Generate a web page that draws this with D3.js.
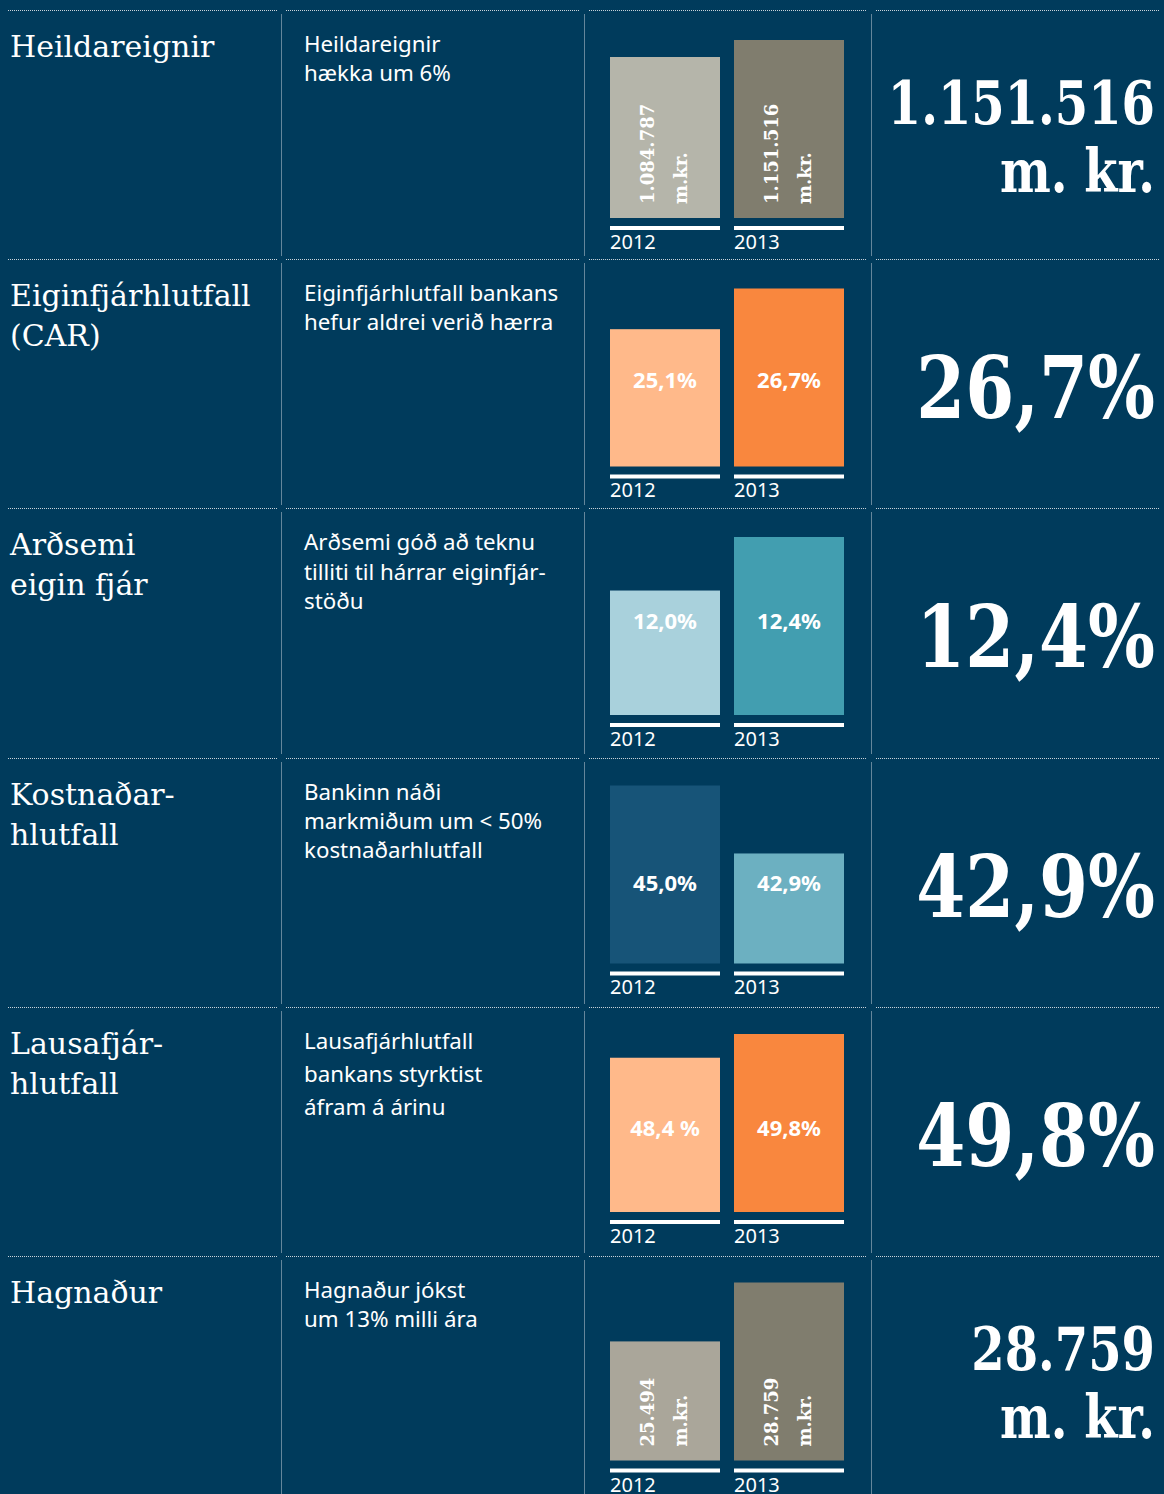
<!DOCTYPE html>
<html lang="is">
<head>
    <meta charset="UTF-8">
    <title>Lykiltölur 2013</title>
    <script src="https://d3js.org/d3.v7.min.js"></script>
    <style>
        body { margin: 0; background: #003b5c; }
        svg { display: block; }
        .title { font-family: "DejaVu Serif", serif; font-size: 30px; fill: #fff; }
        .desc { font-family: "Noto Sans", sans-serif; font-size: 22.3px; fill: #fff; }
        .year { font-family: "Noto Sans", sans-serif; font-size: 20px; fill: #fff; }
        .barlabel { font-family: "Noto Sans", sans-serif; font-size: 22px; font-weight: bold; fill: #fff; }
        .rotlabel { font-family: "DejaVu Serif", serif; font-size: 18px; font-weight: bold; fill: #fff; }
        .big { font-family: "DejaVu Serif", serif; font-weight: bold; fill: #fff; }
        .grid { stroke: #c9d2da; stroke-width: 1; stroke-dasharray: 1 1; }
    </style>
</head>
<body>
<script>
    // values per row
    const years = ["2012", "2013"];
    const titles = [
        ["Heildareignir"],
        ["Eiginfjárhlutfall", "(CAR)"],
        ["Arðsemi", "eigin fjár"],
        ["Kostnaðar-", "hlutfall"],
        ["Lausafjár-", "hlutfall"],
        ["Hagnaður"]
    ];
    const descriptions = [
        ["Heildareignir", "hækka um 6%"],
        ["Eiginfjárhlutfall bankans", "hefur aldrei verið hærra"],
        ["Arðsemi góð að teknu", "tilliti til hárrar eiginfjár-", "stöðu"],
        ["Bankinn náði", "markmiðum um < 50%", "kostnaðarhlutfall"],
        ["Lausafjárhlutfall", "bankans styrktist", "áfram á árinu"],
        ["Hagnaður jókst", "um 13% milli ára"]
    ];
    const values2012 = [1084787, 25.1, 12.0, 45.0, 48.4, 25494];
    const values2013 = [1151516, 26.7, 12.4, 42.9, 49.8, 28759];
    // the bars in the original start from a cut baseline, one per row
    const axisFloor = [452800, 19.7, 11.07, 39.5, 39.3, 18894];
    const labels2012 = [["1.084.787", "m.kr."], "25,1%", "12,0%", "45,0%", "48,4 %", ["25.494", "m.kr."]];
    const labels2013 = [["1.151.516", "m.kr."], "26,7%", "12,4%", "42,9%", "49,8%", ["28.759", "m.kr."]];
    const bigValues = [["1.151.516", "m. kr."], ["26,7%"], ["12,4%"], ["42,9%"], ["49,8%"], ["28.759", "m. kr."]];
    const colors2012 = ["#b5b5aa", "#ffb98a", "#a9d1dc", "#175478", "#ffb98a", "#aaa69a"];
    const colors2013 = ["#807d6e", "#f9873e", "#429eb0", "#6cb0c1", "#f9873e", "#807d6e"];

    const width = 1164, height = 1494;
    const rowTop = 10, rowH = 249.2;
    const barMax = 178;
    const labelY = [129, 129, 121, 133, 129, 129];

    const svg = d3.select("body").append("svg")
        .attr("width", width)
        .attr("height", height);

    svg.append("rect").attr("width", width).attr("height", height).attr("fill", "#003b5c");

    const x = d3.scaleBand().domain(years).range([610, 844]).paddingInner(14 / 124);

    const rows = titles.map((t, i) => ({
        i, title: t, desc: descriptions[i], big: bigValues[i],
        bars: [
            { year: years[0], v: values2012[i], label: labels2012[i], color: colors2012[i] },
            { year: years[1], v: values2013[i], label: labels2013[i], color: colors2013[i] }
        ]
    }));

    // dotted grid
    const grid = svg.append("g");
    const colSegs = [[8, 277], [286, 580], [589, 867], [876, 1159]];
    rows.forEach(r => {
        const y0 = Math.round(rowTop + r.i * rowH) + 0.5;
        colSegs.forEach(s => {
            grid.append("line").attr("class", "grid")
                .attr("x1", s[0]).attr("x2", s[1]).attr("y1", y0).attr("y2", y0);
        });
        [281.5, 584.5, 871.5].forEach(vx => {
            grid.append("line").attr("class", "grid")
                .attr("x1", vx).attr("x2", vx).attr("y1", y0 + 4).attr("y2", y0 + rowH - 4);
        });
    });

    const row = svg.selectAll("g.row")
        .data(rows)
        .join("g")
        .attr("class", "row")
        .attr("transform", d => `translate(0,${rowTop + d.i * rowH})`);

    // titles
    row.append("text").attr("class", "title")
        .selectAll("tspan")
        .data(d => d.title)
        .join("tspan")
        .attr("x", 10)
        .attr("y", (d, j) => 47 + j * 40)
        .text(d => d);

    // descriptions
    row.append("text").attr("class", "desc")
        .each(function(d) {
            const lead = d.i === 4 ? 33 : 29.2;
            d3.select(this).selectAll("tspan")
                .data(d.desc)
                .join("tspan")
                .attr("x", 304)
                .attr("y", (t, j) => 42 + j * lead)
                .text(t => t);
        });

    // bars
    row.each(function(d) {
        const g = d3.select(this);
        const barBottom = 208 - d.i * 0.7;
        const maxV = d3.max(d.bars, b => b.v);
        const h = d3.scaleLinear().domain([axisFloor[d.i], maxV]).range([0, barMax]);

        g.selectAll("rect.bar")
            .data(d.bars)
            .join("rect")
            .attr("class", "bar")
            .attr("x", b => x(b.year))
            .attr("width", x.bandwidth())
            .attr("y", b => barBottom - h(b.v))
            .attr("height", b => h(b.v))
            .attr("fill", b => b.color);

        g.selectAll("rect.base")
            .data(d.bars)
            .join("rect")
            .attr("class", "base")
            .attr("x", b => x(b.year))
            .attr("width", x.bandwidth())
            .attr("y", barBottom + 8)
            .attr("height", 4)
            .attr("fill", "#fff");

        g.selectAll("text.year")
            .data(d.bars)
            .join("text")
            .attr("class", "year")
            .attr("x", b => x(b.year))
            .attr("y", barBottom + 31)
            .text(b => b.year);

        d.bars.forEach(b => {
            const cx = x(b.year) + x.bandwidth() / 2;
            if (Array.isArray(b.label)) {
                b.label.forEach((line, j) => {
                    const lx = cx + (j === 0 ? -17 : 16) + 6;
                    g.append("text").attr("class", "rotlabel")
                        .attr("transform", `translate(${lx},${barBottom - 14}) rotate(-90)`)
                        .text(line);
                });
            } else {
                g.append("text").attr("class", "barlabel")
                    .attr("x", cx)
                    .attr("y", labelY[d.i])
                    .attr("text-anchor", "middle")
                    .text(b.label);
            }
        });

        // big value on the right
        if (d.big.length > 1) {
            d.big.forEach((line, j) => {
                g.append("text").attr("class", "big")
                    .attr("font-size", 60)
                    .attr("text-anchor", "end")
                    .attr("transform", `translate(1155,${114 + j * 68}) scale(0.8,1)`)
                    .text(line);
            });
        } else {
            g.append("text").attr("class", "big")
                .attr("font-size", 86)
                .attr("text-anchor", "end")
                .attr("transform", `translate(1155,159) scale(0.82,1)`)
                .text(d.big[0]);
        }
    });
</script>
</body>
</html>
